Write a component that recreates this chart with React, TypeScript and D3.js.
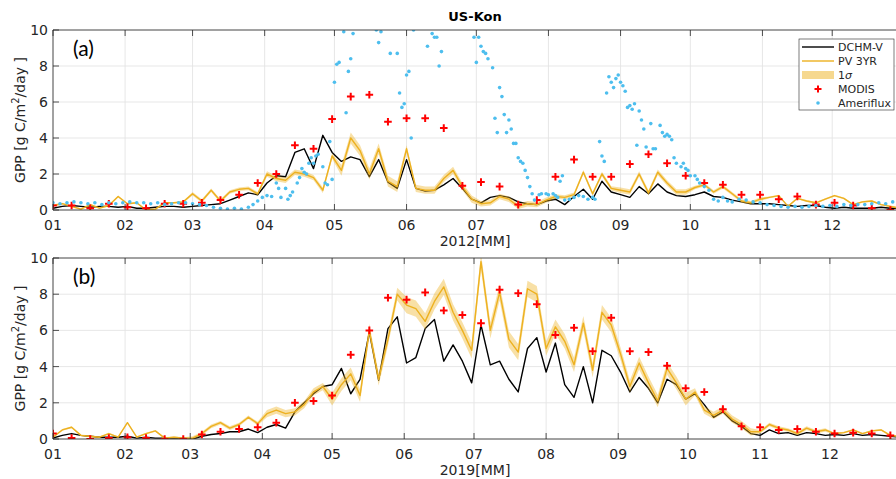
import * as d3 from "d3";

const MONTHS = ["01", "02", "03", "04", "05", "06", "07", "08", "09", "10", "11", "12"];
const MONTH_START_2012 = [0, 31, 60, 91, 121, 152, 182, 213, 244, 274, 305, 335];
const MONTH_START_2019 = [0, 31, 59, 90, 120, 151, 181, 212, 243, 273, 304, 334];
const Y_TICKS = [0, 2, 4, 6, 8, 10];

// day-of-year grid of the model series (every 4 days) and of MODIS (8-day composites)
const SERIES_DAYS = d3.range(0, 365, 4);
const MODIS_DAYS = d3.range(0, 365, 8);

// (a) 2012
const DCHM_2012 = [
  0.1, 0.2, 0.25, 0.2, 0.15, 0.2, 0.2, 0.15, 0.2, 0.1,
  0.1, 0.15, 0.2, 0.2, 0.15, 0.2, 0.25, 0.3, 0.35, 0.55,
  0.75, 0.95, 0.85, 1.5, 1.9, 1.85, 3.2, 3.4, 2.3, 4.15,
  3.2, 2.7, 2.95, 2.8, 1.85, 2.8, 1.55, 1.2, 2.8, 1.2,
  1.05, 1.1, 1.4, 1.75, 1.2, 0.6, 0.4, 0.7, 0.8, 0.7,
  0.45, 0.35, 0.3, 0.5, 0.6, 0.3, 0.75, 1.15, 0.6, 1.6,
  1.0, 0.85, 0.7, 1.3, 0.9, 1.45, 1.0, 0.8, 0.75, 0.85,
  1.0, 0.75, 0.7, 0.55, 0.45, 0.35, 0.35, 0.35, 0.3, 0.25,
  0.2, 0.25, 0.25, 0.15, 0.1, 0.15, 0.1, 0.1, 0.1, 0.15,
  0.1, 0.1,
];
const PV_2012 = [
  0.25, 0.35, 0.2, 0.05, 0.3, 0.1, 0.25, 0.75, 0.35, 0.4,
  0.0, 0.05, 0.4, 0.4, 0.45, 0.9, 0.5, 1.1, 0.5, 1.0,
  1.15, 1.2, 0.9, 2.0, 1.75, 1.65, 2.1, 2.0, 1.8, 1.1,
  3.0, 2.2, 4.0, 3.3, 2.0, 3.4, 1.6, 1.3, 3.4, 1.2,
  1.1, 1.1, 1.75, 2.2, 1.3, 0.6, 0.35, 0.4, 0.75, 0.6,
  0.2, 0.35, 0.3, 0.55, 0.75, 0.7, 0.85, 2.1, 0.9, 2.0,
  1.2, 1.1, 1.0, 2.0, 0.95, 2.1, 1.5, 1.0, 1.0, 1.25,
  1.4, 1.0, 1.3, 0.9, 0.5, 0.4, 0.6, 0.7, 0.8, 0.2,
  0.65, 0.5, 0.4, 0.6, 0.8, 0.65, 0.3, 0.45, 0.5, 0.3,
  0.2, 0.1,
];
const SIGMA_2012 = [0.05, 0.05, 0.1, 0.15, 0.3, 0.2, 0.15, 0.12, 0.15, 0.1, 0.05, 0.05];
const MODIS_2012 = [
  0.25, 0.25, 0.1, 0.35, 0.15, 0.1, 0.35, 0.35, 0.4, 0.55,
  0.85, 1.5, 2.0, 3.6, 3.4, 5.05, 6.3, 6.4, 4.9, 5.1,
  5.1, 4.55, 1.35, 1.55, 1.3, 0.3, 0.55, 1.85, 2.8, 1.85,
  1.85, 2.55, 3.1, 2.6, 1.9, 1.5, 1.4, 0.85, 0.85, 0.6,
  0.75, 0.3, 0.4, 0.25, 0.1, 0.0,
];
const AMF_DAYS_2012 = [
  0, 3, 6, 9, 12, 15, 18, 21, 24, 27, 30, 33, 36, 39, 42, 45, 48, 51, 54, 57,
  60, 63, 66, 69, 72, 75, 78, 81, 84, 86, 88, 90, 92, 94, 96, 97, 98, 100, 101, 102,
  103, 105, 106, 107, 108, 109, 110, 111, 112, 113, 114, 116, 117, 118, 119, 120, 121, 122, 123, 124,
  125, 126, 127, 128, 129, 131, 133, 135, 137, 139, 140, 141, 143, 145, 147, 148, 149, 150, 151, 152,
  153, 154, 155, 157, 159, 161, 163, 164, 165, 166, 167, 169, 172, 175, 178, 181, 182, 183, 184, 185,
  186, 187, 189, 190, 191, 192, 193, 194, 195, 196, 197, 198, 199, 200, 201, 202, 203, 204, 205, 206,
  207, 209, 210, 212, 213, 215, 216, 217, 218, 219, 220, 222, 224, 226, 228, 230, 232, 233, 235, 236,
  237, 238, 239, 240, 241, 242, 243, 244, 245, 246, 247, 248, 249, 250, 251, 252, 253, 254, 255, 257,
  258, 259, 261, 262, 263, 264, 265, 266, 267, 268, 270, 271, 272, 273, 274, 276, 277, 278, 280, 282,
  284, 286, 288, 290, 292, 295, 298, 301, 304, 307, 310, 313, 316, 319, 322, 325, 328, 331, 334, 337,
  340, 343, 346, 349, 352, 355, 358, 361, 364,
];
const AMF_VALS_2012 = [
  0.4, 0.35, 0.4, 0.45, 0.4, 0.35, 0.4, 0.3, 0.4, 0.35, 0.4, 0.45, 0.4, 0.4, 0.35, 0.4, 0.3, 0.35, 0.4, 0.4,
  0.35, 0.3, 0.25, 0.15, 0.1, 0.05, 0.1, 0.05, 0.15, 0.3, 0.5, 0.7, 0.8, 0.75, 1.5, 1.2, 0.7, 1.2, 0.6, 0.8,
  1.0, 1.5, 1.8, 2.3, 2.1, 2.0, 2.6, 2.9, 2.6, 3.0, 3.1, 2.4, 1.5, 1.4, 3.8, 1.7, 7.1, 8.1, 8.2, 10.5,
  9.9, 5.4, 7.7, 8.4, 9.8, 11, 10.8, 10.2, 11, 10.0, 9.3, 9.9, 10.6, 8.7, 10.4, 8.7, 6.5, 5.7, 5.9, 7.5,
  7.7, 4.0, 10.0, 10.5, 11, 9.1, 9.8, 9.6, 9.6, 8.0, 8.8, 10.8, 11, 10.4, 10.3, 9.6, 8.2, 9.6, 9.1, 8.8,
  8.7, 8.4, 7.9, 5.1, 4.3, 6.8, 6.3, 5.3, 4.3, 5.0, 4.5, 3.7, 3.7, 2.9, 2.7, 2.6, 2.2, 1.8, 1.3, 0.9,
  0.55, 0.85, 0.9, 0.9, 0.85, 0.9, 0.8, 0.7, 1.6, 1.9, 0.55, 0.6, 0.7, 0.8, 0.75, 0.6, 0.7, 0.6, 3.8, 3.0,
  2.7, 6.5, 7.4, 7.1, 6.8, 7.3, 7.5, 7.1, 6.9, 6.6, 5.7, 5.8, 5.6, 5.9, 3.6, 5.5, 5.0, 4.5, 3.5, 4.8,
  3.4, 3.4, 4.7, 4.3, 4.1, 4.2, 4.1, 3.9, 2.9, 2.6, 2.4, 2.6, 2.3, 2.2, 1.9, 1.9, 1.7, 1.5, 1.3, 1.1,
  0.6, 0.5, 0.7, 0.5, 0.45, 0.6, 0.55, 0.45, 0.4, 0.3, 0.25, 0.2, 0.15, 0.2, 0.15, 0.2, 0.25, 0.2, 0.25, 0.2,
  0.3, 0.25, 0.3, 0.3, 0.35, 0.4, 0.35, 0.45, 0.4,
];

// (b) 2019
const DCHM_2019 = [
  0.05, 0.2, 0.3, 0.2, 0.15, 0.1, 0.1, 0.1, 0.15, 0.05,
  0.1, 0.05, 0.05, 0.05, 0.05, 0.0, 0.15, 0.25, 0.3, 0.4,
  0.4, 0.55, 0.35, 0.65, 0.8, 0.6, 1.5, 2.0, 2.5, 2.9,
  3.0, 3.9, 2.5, 3.3, 5.9, 3.25, 6.1, 6.75, 4.2, 4.5,
  6.1, 6.6, 4.3, 5.2, 4.3, 3.1, 6.3, 4.1, 4.3, 3.3,
  2.6, 5.0, 5.6, 3.7, 5.3, 3.0, 2.3, 4.0, 2.0, 4.9,
  4.6, 3.7, 2.6, 3.4, 2.8, 2.0, 3.3, 3.0, 2.2, 2.5,
  1.9, 1.2, 1.5, 1.0, 0.7, 0.3, 0.2, 0.5, 0.3, 0.35,
  0.2, 0.35, 0.3, 0.2, 0.25, 0.2, 0.3, 0.2, 0.25, 0.2,
  0.15, 0.1,
];
const PV_2019 = [
  0.1, 0.5, 0.65, 0.2, 0.15, 0.1, 0.3, 0.1, 0.9, 0.1,
  0.3, 0.45, 0.05, 0.1, 0.05, 0.05, 0.3, 0.7, 0.9, 0.6,
  0.8, 1.2, 0.85, 1.4, 1.6, 1.4, 1.5, 1.9, 2.6, 2.9,
  2.2, 3.0, 3.6, 2.4, 6.0, 3.3, 5.5, 8.0, 7.4, 7.2,
  6.5, 7.6, 8.4, 7.0, 6.0, 4.9, 9.8, 6.0, 8.1, 5.5,
  4.8, 8.3, 8.0, 5.0, 6.2, 5.4, 4.1, 6.4, 3.8, 7.0,
  6.3, 4.7, 2.9, 4.2, 3.1, 2.1, 3.9, 3.1, 2.2, 2.6,
  1.6, 1.3, 1.6, 1.1, 0.8, 0.4, 0.4, 0.8, 0.6, 0.5,
  0.3, 0.6, 0.4, 0.5, 0.3, 0.35, 0.5, 0.3, 0.45, 0.5,
  0.2, 0.15,
];
const SIGMA_2019 = [0.05, 0.05, 0.1, 0.2, 0.35, 0.45, 0.45, 0.4, 0.35, 0.2, 0.1, 0.05];
const MODIS_2019 = [
  0.3, 0.05, 0.0, 0.05, 0.1, 0.05, 0.0, 0.0, 0.25, 0.4,
  0.55, 0.65, 0.9, 2.0, 2.1, 2.4, 4.65, 6.0, 7.8, 7.7,
  8.1, 7.1, 6.85, 6.4, 8.25, 8.05, 7.45, 5.75, 6.15, 4.85,
  6.7, 4.85, 4.8, 4.05, 2.8, 2.6, 1.65, 0.7, 0.65, 0.5,
  0.55, 0.4, 0.3, 0.35, 0.3, 0.2,
];

const ORANGE = "#EDB120";
const BLUE = "#4DBEEE";
const AXIS = "#262626";
const GRID = "#e4e4e4";
const FONT = "DejaVu Sans, sans-serif";

const x = d3.scaleLinear().domain([0, 365]).range([53, 902]);

type PanelProps = {
  id: string;
  top: number;
  bottom: number;
  label: string;
  xTitle: string;
  monthStart: number[];
  dchm: number[];
  pv: number[];
  sigma: number[];
  modis: number[];
  amfDays?: number[];
  amfVals?: number[];
  legend?: boolean;
};

function Panel(p: PanelProps) {
  const y = d3.scaleLinear().domain([0, 10]).range([p.bottom, p.top]);
  const monthOf = (day: number) => d3.bisectRight(p.monthStart, day) - 1;

  const line = d3
    .line<number>()
    .x((_, i) => x(SERIES_DAYS[i]))
    .y((d) => y(d));
  const band = d3
    .area<number>()
    .x((_, i) => x(SERIES_DAYS[i]))
    .y0((d, i) => y(d - p.sigma[monthOf(SERIES_DAYS[i])]))
    .y1((d, i) => y(d + p.sigma[monthOf(SERIES_DAYS[i])]));

  const [x0, x1] = x.range();
  const midY = (p.top + p.bottom) / 2;
  const tick = 6;

  return (
    <g>
      <defs>
        <clipPath id={p.id}>
          <rect x={x0} y={p.top} width={x1 - x0} height={p.bottom - p.top} />
        </clipPath>
      </defs>
      <rect x={x0} y={p.top} width={x1 - x0} height={p.bottom - p.top} fill="#fff" />
      {/* grid */}
      {p.monthStart.map((d) => (
        <line key={"gx" + d} x1={x(d)} x2={x(d)} y1={p.top} y2={p.bottom} stroke={GRID} strokeWidth={0.9} />
      ))}
      {Y_TICKS.map((v) => (
        <line key={"gy" + v} x1={x0} x2={x1} y1={y(v)} y2={y(v)} stroke={GRID} strokeWidth={0.9} />
      ))}

      <g clipPath={`url(#${p.id})`}>
        <path d={line(p.dchm) || ""} fill="none" stroke="#000" strokeWidth={1.4} strokeLinejoin="round" />
        <path d={band(p.pv) || ""} fill={ORANGE} fillOpacity={0.4} stroke="none" />
        <path d={line(p.pv) || ""} fill="none" stroke={ORANGE} strokeWidth={1.4} strokeLinejoin="round" />
        {p.modis.map((v, i) => (
          <path
            key={"m" + i}
            transform={`translate(${x(MODIS_DAYS[i])},${y(v)})`}
            d="M-3.8,0H3.8M0,-3.8V3.8"
            stroke="#ff0000"
            strokeWidth={2}
          />
        ))}
        {p.amfDays &&
          p.amfVals &&
          p.amfDays.map((d, i) => (
            <circle key={"a" + i} cx={x(d)} cy={y(p.amfVals![i])} r={1.8} fill={BLUE} />
          ))}
      </g>

      {/* axes box */}
      <line x1={x0} x2={x1} y1={p.top} y2={p.top} stroke={AXIS} strokeWidth={0.8} />
      <line x1={x0} x2={x1} y1={p.bottom} y2={p.bottom} stroke={AXIS} strokeWidth={0.8} />
      <line x1={x0} x2={x0} y1={p.top} y2={p.bottom} stroke={AXIS} strokeWidth={0.8} />
      {p.monthStart.map((d) => (
        <g key={"t" + d}>
          <line x1={x(d)} x2={x(d)} y1={p.top} y2={p.top + tick} stroke={AXIS} strokeWidth={0.8} />
          <line x1={x(d)} x2={x(d)} y1={p.bottom} y2={p.bottom - tick} stroke={AXIS} strokeWidth={0.8} />
        </g>
      ))}
      {Y_TICKS.map((v) => (
        <line key={"ty" + v} x1={x0} x2={x0 + tick} y1={y(v)} y2={y(v)} stroke={AXIS} strokeWidth={0.8} />
      ))}

      {/* tick labels */}
      {p.monthStart.map((d, i) => (
        <text key={"lx" + d} x={x(d)} y={p.bottom + 20} textAnchor="middle" fontSize={14} fill={AXIS} fontFamily={FONT}>
          {MONTHS[i]}
        </text>
      ))}
      {Y_TICKS.map((v) => (
        <text key={"ly" + v} x={x0 - 5} y={y(v) + 5} textAnchor="end" fontSize={14} fill={AXIS} fontFamily={FONT}>
          {v}
        </text>
      ))}

      <text x={475} y={p.bottom + 36} textAnchor="middle" fontSize={14} fill={AXIS} fontFamily={FONT}>
        {p.xTitle}
      </text>
      <text
        transform={`translate(25,${midY}) rotate(-90)`}
        textAnchor="middle"
        fontSize={14}
        fill={AXIS}
        fontFamily={FONT}
      >
        GPP [g C/m
        <tspan dy={-6} fontSize={10}>
          2
        </tspan>
        <tspan dy={6}>/day ]</tspan>
      </text>
      <text x={73} y={p.top + 26} fontSize={21} fill="#000" fontFamily="Lato, Open Sans, sans-serif">
        {p.label}
      </text>

      {p.legend && <Legend />}
    </g>
  );
}

const LEGEND_ITEMS = ["DCHM-V", "PV 3YR", "1\u03c3", "MODIS", "Ameriflux"];

function Legend() {
  const lx = 799;
  const ly = 39;
  const rowY = (i: number) => ly + 8 + i * 14;
  return (
    <g>
      <rect x={lx} y={ly} width={95} height={71} fill="#fff" stroke={AXIS} strokeWidth={0.6} />
      <line x1={lx + 3} x2={lx + 35} y1={rowY(0)} y2={rowY(0)} stroke="#000" strokeWidth={1.4} />
      <line x1={lx + 3} x2={lx + 35} y1={rowY(1)} y2={rowY(1)} stroke={ORANGE} strokeWidth={1.4} />
      <rect x={lx + 3} y={rowY(2) - 4} width={32} height={8} fill={ORANGE} fillOpacity={0.5} />
      <path
        transform={`translate(${lx + 19},${rowY(3)})`}
        d="M-3.5,0H3.5M0,-3.5V3.5"
        stroke="#ff0000"
        strokeWidth={2}
      />
      <circle cx={lx + 19} cy={rowY(4)} r={1.8} fill={BLUE} />
      {LEGEND_ITEMS.map((t, i) => (
        <text key={t} x={lx + 39} y={rowY(i) + 4} fontSize={11} fill={AXIS} fontFamily={FONT}>
          {i === 2 ? (
            <>
              1<tspan fontStyle="italic">{"\u03c3"}</tspan>
            </>
          ) : (
            t
          )}
        </text>
      ))}
    </g>
  );
}

export default function App() {
  return (
    <svg
      width={896}
      height={479}
      style={{ position: "absolute", left: 0, top: 0, background: "#fff" }}
    >
      <rect width={896} height={479} fill="#fff" />
      <text x={475} y={21} textAnchor="middle" fontSize={13} fontWeight="bold" fill="#000" fontFamily={FONT}>
        US-Kon
      </text>
      <Panel
        id="clipA"
        top={30}
        bottom={210}
        label="(a)"
        xTitle="2012[MM]"
        monthStart={MONTH_START_2012}
        dchm={DCHM_2012}
        pv={PV_2012}
        sigma={SIGMA_2012}
        modis={MODIS_2012}
        amfDays={AMF_DAYS_2012}
        amfVals={AMF_VALS_2012}
        legend
      />
      <Panel
        id="clipB"
        top={258}
        bottom={439}
        label="(b)"
        xTitle="2019[MM]"
        monthStart={MONTH_START_2019}
        dchm={DCHM_2019}
        pv={PV_2019}
        sigma={SIGMA_2019}
        modis={MODIS_2019}
      />
    </svg>
  );
}
